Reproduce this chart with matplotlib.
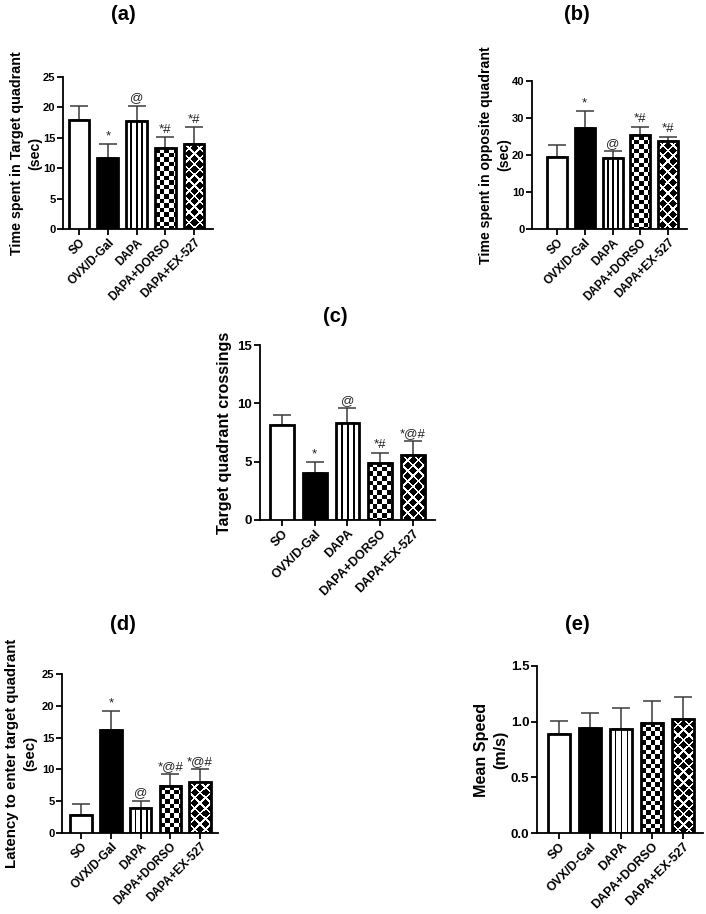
import numpy as np
import matplotlib
matplotlib.use("Agg")
import matplotlib.pyplot as plt

plt.rcParams['font.family'] = ['Liberation Sans', 'DejaVu Sans']

groups = ["SO", "OVX/D-Gal", "DAPA", "DAPA+DORSO", "DAPA+EX-527"]

a_mean = [17.9, 11.6, 17.7, 13.3, 14.0]
a_err = [2.3, 2.4, 2.6, 1.8, 2.7]
a_sig = ["", "*", "@", "*#", "*#"]

b_mean = [19.5, 27.3, 19.1, 25.3, 23.8]
b_err = [3.3, 4.6, 1.9, 2.3, 1.2]
b_sig = ["", "*", "@", "*#", "*#"]

c_mean = [8.15, 4.05, 8.28, 4.9, 5.55]
c_err = [0.85, 0.95, 1.3, 0.88, 1.2]
c_sig = ["", "*", "@", "*#", "*@#"]

d_mean = [2.9, 16.2, 3.95, 7.4, 8.0]
d_err = [1.6, 3.0, 1.1, 1.8, 2.05]
d_sig = ["", "*", "@", "*@#", "*@#"]

e_mean = [0.89, 0.94, 0.93, 0.99, 1.02]
e_err = [0.12, 0.135, 0.19, 0.195, 0.205]
e_sig = ["", "", "", "", ""]

W, H = 706, 914
fig = plt.figure(figsize=(W / 100, H / 100), dpi=100)

patterns = ["plain", "solid", "stripes", "checker", "diamond"]


def make_pattern(kind, wpx, hpx, sc=4):
    nx, ny = max(int(wpx * sc), 2), max(int(hpx * sc), 2)
    xs = (np.arange(nx) + 0.5) / sc
    ys = (np.arange(ny) + 0.5) / sc
    X, Y = np.meshgrid(xs, ys)
    Yt = hpx - Y  # distance from top
    if kind == "stripes":
        black = np.zeros_like(X, dtype=bool)
        for k in (1, 2, 3):
            black |= np.abs(X - wpx * k / 4) < 0.8
    elif kind == "checker":
        s = 4.6
        black = ((np.floor(X / s) + np.floor(Yt / s)) % 2) == 0
    else:  # diamond
        P = 10.5
        r = 0.38 * P
        cx = wpx / 2
        u = X - cx
        v = Yt - P / 2
        du = (u + P / 2) % P - P / 2
        dv = (v + P / 2) % P - P / 2
        d1 = np.abs(du) + np.abs(dv)
        du2 = u % P - P / 2
        dv2 = v % P - P / 2
        d2 = np.abs(du2) + np.abs(dv2)
        black = np.minimum(d1, d2) < r
    img = np.where(black, 0.0, 1.0)
    return img


def panel(rect_px, means, errs, sigs, ylim, yticks, xlim, ylabel, ylabel_fs, label_cx,
          ytick_fs=8, xtick_fs=8.5, fmt=None):
    l, r, t, b = rect_px
    ax = fig.add_axes([l / W, 1 - b / H, (r - l) / W, (b - t) / H])
    x = np.arange(len(groups))
    width = 0.72
    faces = ["white", "black", "none", "none", "none"]
    bars = ax.bar(x, means, width, color=faces, edgecolor="black", linewidth=2.0, zorder=3)
    ax.set_xlim(*xlim)
    ax.set_ylim(*ylim)
    for bar, kind in zip(bars, patterns):
        if kind in ("plain", "solid"):
            continue
        x0, w0, h0 = bar.get_x(), bar.get_width(), bar.get_height()
        p0 = ax.transData.transform((x0, 0))
        p1 = ax.transData.transform((x0 + w0, h0))
        img = make_pattern(kind, p1[0] - p0[0], p1[1] - p0[1])
        ax.imshow(img, cmap="gray", vmin=0, vmax=1, extent=(x0, x0 + w0, 0, h0),
                  origin="lower", interpolation="nearest", aspect="auto",
                  zorder=2, clip_path=bar, clip_on=True)
    ax.errorbar(x, means, yerr=[np.zeros(len(means)), errs], fmt="none",
                ecolor="#3a3a3a", elinewidth=1.1, capsize=6.5, capthick=1.1, zorder=2.5)
    for xi, m, e, s in zip(x, means, errs, sigs):
        if s:
            ax.annotate(s, (xi, m + e), xytext=(0, 1.0), textcoords="offset points",
                        ha="center", va="bottom", fontsize=9.5, color="#222222")
    ax.set_xlim(*xlim)
    ax.set_ylim(*ylim)
    ax.set_yticks(yticks)
    if fmt:
        ax.set_yticklabels([fmt.format(v) for v in yticks])
    ax.set_xticks(x)
    ax.set_xticklabels(groups, rotation=45, ha="right", rotation_mode="anchor")
    for sp in ("top", "right"):
        ax.spines[sp].set_visible(False)
    for sp in ("left", "bottom"):
        ax.spines[sp].set_linewidth(1.3)
    ax.tick_params(axis="both", direction="out", length=4, width=1.3, pad=1.5)
    ax.tick_params(axis="y", labelsize=ytick_fs)
    ax.tick_params(axis="x", labelsize=xtick_fs)
    for lab in ax.get_xticklabels() + ax.get_yticklabels():
        lab.set_fontweight("bold")
    ax.set_ylabel(ylabel, fontsize=ylabel_fs, fontweight="bold", linespacing=1.35, va="center")
    ax.yaxis.set_label_coords((label_cx - l) / (r - l), 0.5)
    return ax


panel((63, 213, 77, 229), a_mean, a_err, a_sig, (0, 25), [0, 5, 10, 15, 20, 25], (-0.56, 4.66),
      "Time spent in Target quadrant\n(sec)", 10.3, 26)
panel((532, 687, 81, 229), b_mean, b_err, b_sig, (0, 40), [0, 10, 20, 30, 40], (-0.9, 4.68),
      "Time spent in opposite quadrant\n(sec)", 10.2, 495)
panel((260, 435, 345, 520), c_mean, c_err, c_sig, (0, 15), [0, 5, 10, 15], (-0.67, 4.67),
      "Target quadrant crossings", 11.6, 224, ytick_fs=9.5, xtick_fs=9)
panel((62, 218, 674, 833), d_mean, d_err, d_sig, (0, 25), [0, 5, 10, 15, 20, 25], (-0.64, 4.6),
      "Latency to enter target quadrant\n(sec)", 10.8, 21)
panel((537, 703, 666, 833), e_mean, e_err, e_sig, (0, 1.5), [0.0, 0.5, 1.0, 1.5], (-0.71, 4.65),
      "Mean Speed\n(m/s)", 11.6, 491, ytick_fs=9.5, xtick_fs=9, fmt="{:.1f}")

titles = [("(a)", 123, 15), ("(b)", 577, 15), ("(c)", 335, 316), ("(d)", 123, 625), ("(e)", 577, 625)]
for s, tx, ty in titles:
    fig.text(tx / W, 1 - ty / H, s, ha="center", va="center", fontsize=14.5, fontweight="bold")

fig.savefig("out.png", dpi=100)
